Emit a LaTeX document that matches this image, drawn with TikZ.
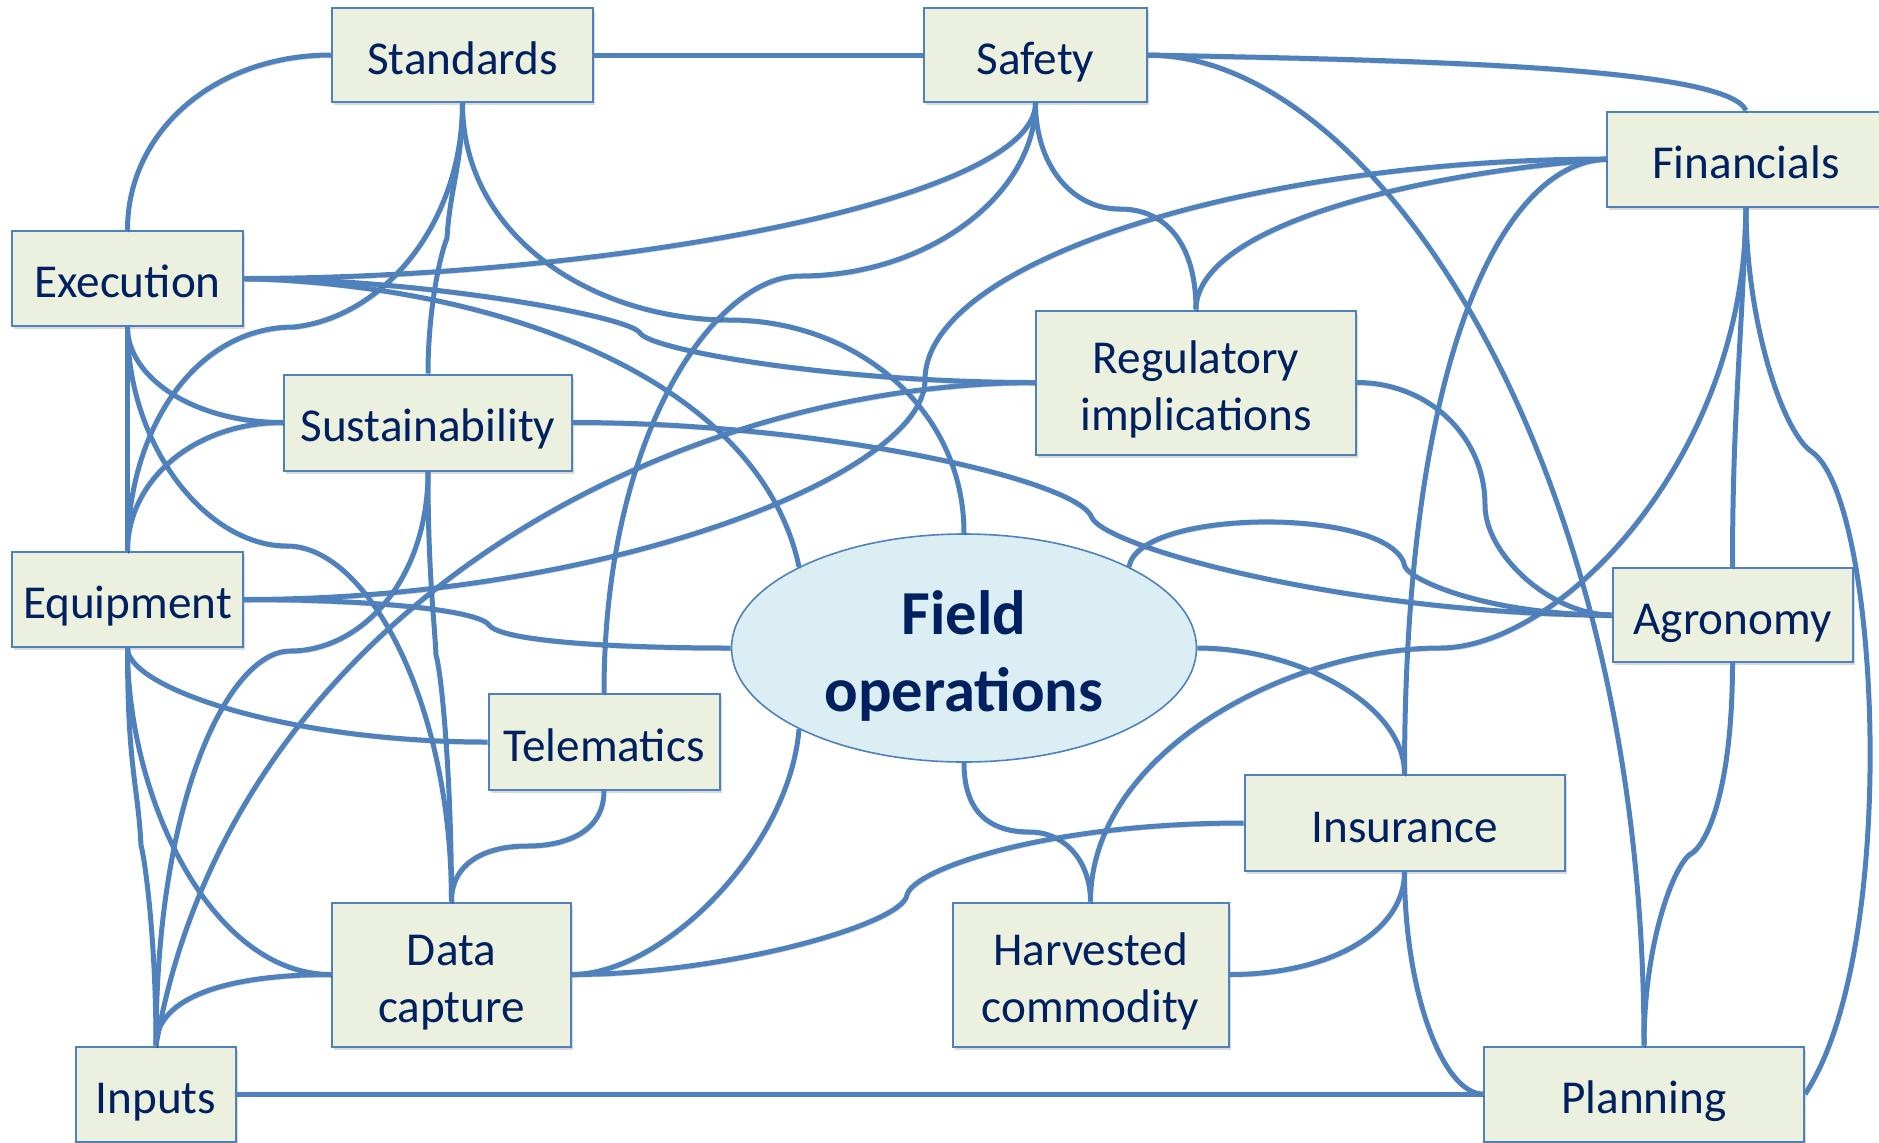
\documentclass[tikz,border=0pt]{standalone}
\usepackage{fontspec}
\setmainfont{Carlito}
\usepackage{tikz}
\usetikzlibrary{shapes.geometric}
\usetikzlibrary{shadows}

\definecolor{lineblue}{RGB}{79,129,189}
\definecolor{boxfill}{RGB}{235,241,222}
\definecolor{ovalfill}{RGB}{219,238,244}
\definecolor{navytext}{RGB}{0,32,96}

\tikzset{
    box/.style={draw=lineblue, fill=boxfill, line width=1pt, inner sep=0pt, align=center, text=navytext,
        font=\fontsize{23.6}{28.5}\selectfont, drop shadow={shadow xshift=1pt, shadow yshift=-1.5pt, opacity=0.3}},
    oval/.style={ellipse, draw=lineblue, fill=ovalfill, line width=0.8pt, inner sep=0pt, align=center, text=navytext,
        font=\fontsize{31.3}{38.3}\selectfont\bfseries},
    link/.style={draw=lineblue, line width=2.5pt,
        preaction={draw=black, opacity=0.2, transform canvas={xshift=0.6pt, yshift=-1.3pt}}}
}

\begin{document}
\begin{tikzpicture}[x=0.5pt, y=0.5pt]
    % Line struts so every box sets its text the same way
    \def\lbl#1{\smash{#1}\rule{0pt}{19.4pt}}
    \def\flbl#1{\smash{#1}\rule{0pt}{25pt}}

    \useasboundingbox (0,0) rectangle (1879,-1142);

    % Draw the boxes
    \node[box, minimum width=130.5pt, minimum height=47pt] (std) at (462.5,-55) {\lbl{Standards}};
    \node[box, minimum width=111.5pt, minimum height=47pt] (saf) at (1035.5,-55) {\lbl{Safety}};
    \node[box, minimum width=139pt, minimum height=47.5pt] (fin) at (1746,-159) {\lbl{Financials}};
    \node[box, minimum width=115.5pt, minimum height=47.5pt] (exe) at (127.5,-278.5) {\lbl{Execution}};
    \node[box, minimum width=160pt, minimum height=72pt] (reg) at (1196,-382.5) {\lbl{Regulatory}\\\lbl{implications}};
    \node[box, minimum width=144pt, minimum height=48pt] (sus) at (428,-422.5) {\lbl{Sustainability}};
    \node[box, minimum width=115.5pt, minimum height=47.5pt] (equ) at (127.5,-599.5) {\lbl{Equipment}};
    \node[box, minimum width=120pt, minimum height=47pt] (agr) at (1732.5,-615) {\lbl{Agronomy}};
    \node[box, minimum width=115.5pt, minimum height=48pt] (tel) at (604,-742) {\lbl{Telematics}};
    \node[box, minimum width=160pt, minimum height=48pt] (ins) at (1404.5,-823) {\lbl{Insurance}};
    \node[box, minimum width=119.5pt, minimum height=72pt] (dat) at (451.5,-974.5) {\lbl{Data}\\\lbl{capture}};
    \node[box, minimum width=138pt, minimum height=72pt] (har) at (1090.5,-974.5) {\lbl{Harvested}\\\lbl{commodity}};
    \node[box, minimum width=80pt, minimum height=47.5pt] (inp) at (156,-1094) {\lbl{Inputs}};
    \node[box, minimum width=160pt, minimum height=47.5pt] (pla) at (1644,-1094) {\lbl{Planning}};

    % Centre oval
    \node[oval, minimum width=232.5pt, minimum height=114pt] (fo) at (964,-648) {\flbl{Field}\\\flbl{operations}};

    % Links from the top row
    \draw[link] (std.west) .. controls +(-115,0) and +(0,100) .. (exe.north);
    \draw[link] (std.east) -- (saf.west);
    \draw[link] (std.south) .. controls +(0,-120) and +(90,10) .. (294,-327) .. controls +(-100,0) and +(0,120) .. (equ.north);
    \draw[link] (std.south) .. controls +(0,-60) and +(3,50) .. (447,-238) .. controls +(-8,-20) and +(0,60) .. (sus.north);
    \draw[link] (std.south) .. controls +(0,-135) and +(-135,0) .. (730,-320) .. controls +(125,0) and +(0,125) .. (fo.north);
    \draw[link] (saf.south) .. controls +(0,-98) and +(360,0) .. (exe.east);
    \draw[link] (saf.south) .. controls +(0,-90) and +(130,0) .. (800,-276) .. controls +(-85,0) and +(0,260) .. (tel.north);
    \draw[link] (saf.south) .. controls +(0,-60) and +(-50,0) .. (1120,-209) .. controls +(50,0) and +(0,60) .. (reg.north);
    \draw[link] (saf.east) .. controls +(250,-5) and +(-20,45) .. (fin.north);
    \draw[link] (saf.east) .. controls +(225,0) and +(0,588) .. (pla.north);

    % Links from Financials
    \draw[link] (fin.west) .. controls +(-350,0) and +(0,120) .. (925,-380) .. controls +(0,-94) and +(363,0) .. (equ.east);
    \draw[link] (fin.west) .. controls +(-207,-16) and +(0,80) .. (reg.north);
    \draw[link] (fin.west) .. controls +(-110,-5) and +(0,400) .. (ins.north);
    \draw[link] (fin.south) .. controls +(0,-250) and +(120,0) .. (1440,-648) .. controls +(-150,0) and +(0,150) .. (har.north);
    \draw[link] (fin.south) .. controls +(-5,-150) and +(0,150) .. (agr.north);
    \draw[link] (fin.south) .. controls +(0,-112) and +(-30,20) .. (1812,-452) .. controls +(68,-48) and +(96,144) .. (pla.east);

    % Links on the left
    \draw[link] (exe.east) .. controls +(177,0) and +(-10,17) .. (640,-333) .. controls +(10,-17) and +(-200,0) .. (reg.west);
    \draw[link] (exe.east) .. controls +(257,-6.5) and +(-40,187) .. (fo.north west);
    \draw[link] (exe.south) -- (equ.north);
    \draw[link] (exe.south) .. controls +(0,-50) and +(-90,0) .. (sus.west);
    \draw[link] (exe.south) .. controls +(0,-120) and +(-80,0) .. (287,-546) .. controls +(80,0) and +(0,200) .. (dat.north);
    \draw[link] (sus.west) .. controls +(-90,0) and +(0,70) .. (equ.north);
    \draw[link] (sus.east) .. controls +(250,0) and +(-12,38) .. (1092,-518) .. controls +(18,-32) and +(-250,0) .. (agr.west);
    \draw[link] (sus.south) .. controls +(0,-110) and +(70,0) .. (290,-651) .. controls +(-60,0) and +(0,250) .. (inp.north);
    \draw[link] (sus.south) .. controls +(0,-100) and +(-2,40) .. (436,-655) .. controls +(6,-20) and +(0,120) .. (dat.north);
    \draw[link] (reg.west) .. controls +(-376,-1.5) and +(74,426.5) .. (inp.north);
    \draw[link] (reg.east) .. controls +(70,0) and +(0,70) .. (1485,-505) .. controls +(0,-50) and +(-60,0) .. (agr.west);
    \draw[link] (equ.east) .. controls +(120,0) and +(-12,16) .. (489,-625) .. controls +(12,-16) and +(-120,0) .. (fo.west);
    \draw[link] (equ.south) .. controls +(0,-120) and +(-3,60) .. (141,-845) .. controls +(5,-20) and +(0,100) .. (inp.north);
    \draw[link] (equ.south) .. controls +(0,-150) and +(-120,0) .. (dat.west);
    \draw[link] (equ.south) .. controls +(0,-40) and +(-200,0) .. (tel.west);

    % Links round the oval and the bottom row
    \draw[link] (fo.north east) .. controls +(10,60) and +(-10,60) .. (1405,-567) .. controls +(8,-15) and +(-120,0) .. (agr.west);
    \draw[link] (fo.east) .. controls +(100,0) and +(0,70) .. (ins.north);
    \draw[link] (fo.south west) .. controls +(-10,-120) and +(90,0) .. (dat.east);
    \draw[link] (fo.south) .. controls +(0,-50) and +(-40,0) .. (1030,-832) .. controls +(35,0) and +(0,40) .. (har.north);
    \draw[link] (tel.south) .. controls +(0,-40) and +(40,0) .. (527,-846) .. controls +(-40,0) and +(0,40) .. (dat.north);
    \draw[link] (dat.west) .. controls +(-100,0) and +(0,50) .. (inp.north);
    \draw[link] (dat.east) .. controls +(150,0) and +(-5,-30) .. (907,-895) .. controls +(5,25) and +(-200,0) .. (ins.west);
    \draw[link] (har.east) .. controls +(100,0) and +(0,-60) .. (ins.south);
    \draw[link] (ins.south) .. controls +(0,-120) and +(-40,0) .. (pla.west);
    \draw[link] (inp.east) -- (pla.west);
    \draw[link] (agr.south) .. controls +(0,-120) and +(20,10) .. (1689,-855) .. controls +(-17,-15) and +(0,100) .. (pla.north);
\end{tikzpicture}
\end{document}
